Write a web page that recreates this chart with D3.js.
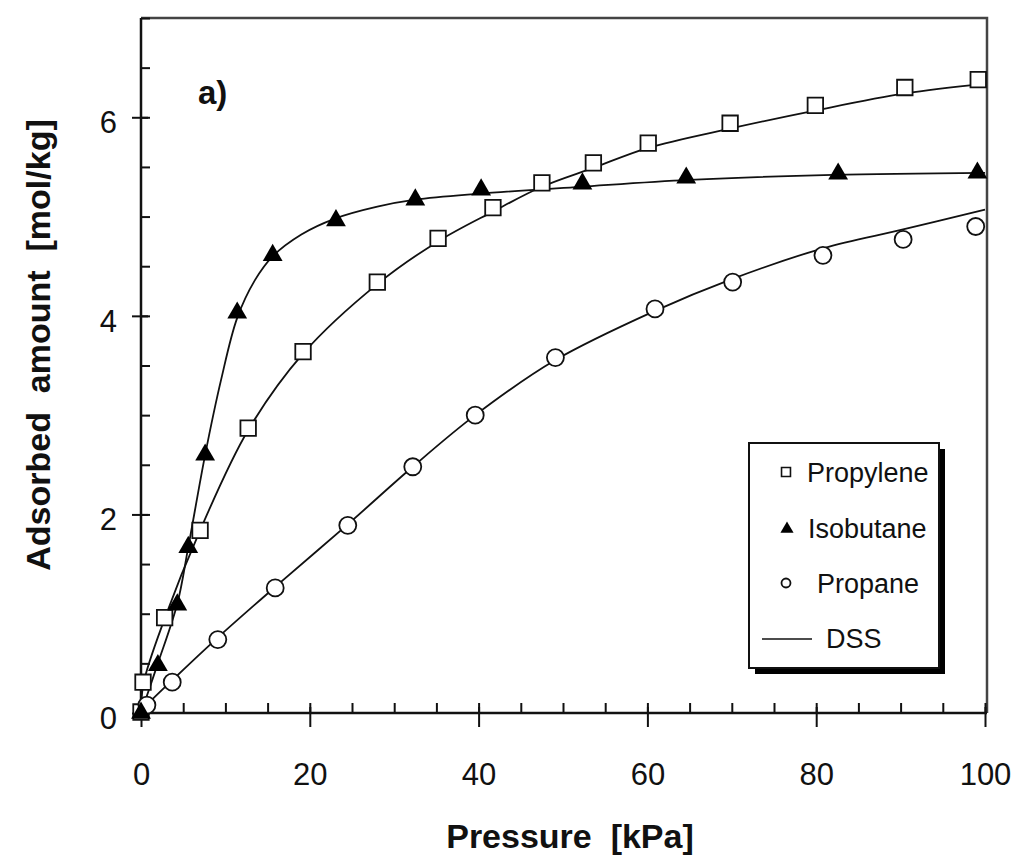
<!DOCTYPE html>
<html>
<head>
<meta charset=utf-8>
<title>Adsorption isotherms</title>
<style>
body{margin: 0; background: #fff;}
text{font-family: 'Liberation Sans', Arial, sans-serif; fill: #111;}
.tick text{font-size: 31px;}
.axis path{display: none;}
.axis line{stroke: #111; stroke-width: 2;}
.title{font-weight: bold; font-size: 34px; white-space: pre;}
</style>
</head>
<body>
<div id=chart></div>
<script src='https://cdn.jsdelivr.net/npm/d3@7'></script>
<script>
//measured points (pressure kPa, amount mol/kg)
var propyleneP = [0, 0.24, 2.8, 7.0, 12.7, 19.2, 28.0, 35.2, 41.7, 47.5, 53.6, 60.1, 69.8, 79.9, 90.5, 99.2];
var propyleneQ = [0.01, 0.31, 0.96, 1.84, 2.87, 3.64, 4.34, 4.78, 5.09, 5.34, 5.54, 5.74, 5.94, 6.12, 6.30, 6.38];

var isobutaneP = [0, 2.0, 4.3, 5.6, 7.6, 11.4, 15.6, 23.1, 32.5, 40.3, 52.3, 64.6, 82.6, 99.1];
var isobutaneQ = [0, 0.48, 1.09, 1.67, 2.6, 4.03, 4.61, 4.96, 5.17, 5.27, 5.33, 5.39, 5.43, 5.44];

var propaneP = [0.7, 3.7, 9.1, 15.9, 24.5, 32.2, 39.6, 49.1, 60.9, 70.1, 80.8, 90.3, 98.9];
var propaneQ = [0.08, 0.31, 0.74, 1.26, 1.89, 2.48, 3.0, 3.58, 4.07, 4.34, 4.61, 4.77, 4.90];

//DSS fit curves
var dssPropyleneP = [0, 0.3, 2.8, 7, 12.7, 19.2, 28, 35.2, 41.7, 47.5, 53.6, 60, 70, 80, 90.5, 100];
var dssPropyleneQ = [0, 0.3, 0.95, 1.84, 2.85, 3.62, 4.32, 4.75, 5.05, 5.3, 5.49, 5.69, 5.89, 6.07, 6.24, 6.34];

var dssIsobutaneP = [0, 2, 4.3, 5.6, 7.6, 9.5, 11.4, 13.5, 15.6, 19, 23, 28, 32.5, 40, 52, 65, 82, 100];
var dssIsobutaneQ = [0, 0.5, 1.1, 1.67, 2.6, 3.36, 3.98, 4.36, 4.6, 4.82, 4.98, 5.1, 5.17, 5.23, 5.3, 5.37, 5.42, 5.44];

var dssPropaneP = [0, 0.7, 3.7, 9.1, 15.9, 24.5, 32.2, 39.6, 49, 60.9, 70, 80.8, 90.3, 100];
var dssPropaneQ = [0, 0.08, 0.33, 0.76, 1.27, 1.9, 2.48, 3.0, 3.55, 4.05, 4.37, 4.68, 4.87, 5.07];

var legendLabels = ['Propylene', 'Isobutane', 'Propane', 'DSS'];
var xMajorTicks = [0, 20, 40, 60, 80, 100];
var yMajorTicks = [0, 2, 4, 6];

var W = 1018, H = 859;
var svg = d3.select('#chart').append('svg')
    .attr('width', W)
    .attr('height', H);

var x = d3.scaleLinear().domain([0, 100]).range([141, 985]);
var y = d3.scaleLinear().domain([0, 7]).range([713, 18]);

var zip = (a, b) => a.map((v, i) => [v, b[i]]);

//frame top and right
svg.append('path')
    .attr('d', 'M' + x(0) + ',' + y(7) + 'H' + (x(100) + 2) + 'V' + y(0))
    .attr('fill', 'none')
    .attr('stroke', '#444')
    .attr('stroke-width', 2.5);

//minor ticks (inside)
svg.append('g').attr('class', 'axis')
    .attr('transform', 'translate(0,' + y(0) + ')')
    .call(d3.axisBottom(x).tickValues(d3.range(0, 101, 5)).tickSize(-10).tickFormat(''));
svg.append('g').attr('class', 'axis')
    .attr('transform', 'translate(' + x(0) + ',0)')
    .call(d3.axisLeft(y).tickValues(d3.range(0, 7.01, 0.5)).tickSize(-9).tickFormat(''));

//major ticks crossing the axis, with labels
var xAxis = svg.append('g').attr('class', 'axis')
    .attr('transform', 'translate(0,' + y(0) + ')')
    .call(d3.axisBottom(x).tickValues(xMajorTicks).tickSize(14).tickPadding(36).tickFormat(d3.format('d')));
xAxis.selectAll('.tick line').attr('y1', -6);

var yAxis = svg.append('g').attr('class', 'axis')
    .attr('transform', 'translate(' + x(0) + ',0)')
    .call(d3.axisLeft(y).tickValues(yMajorTicks).tickSize(9).tickPadding(15).tickFormat(d3.format('d')));
yAxis.selectAll('.tick line').attr('x1', 7);
yAxis.selectAll('.tick text').attr('dy', '0.5em');

//axis lines
svg.append('line')
    .attr('x1', x(0)).attr('x2', x(100) + 2)
    .attr('y1', y(0)).attr('y2', y(0))
    .attr('stroke', '#111').attr('stroke-width', 2.5);
svg.append('line')
    .attr('x1', x(0)).attr('x2', x(0))
    .attr('y1', y(0)).attr('y2', y(7))
    .attr('stroke', '#111').attr('stroke-width', 2.5);

//axis titles
svg.append('text')
    .attr('class', 'title')
    .attr('text-anchor', 'middle')
    .attr('x', 570)
    .attr('y', 848)
    .text('Pressure  [kPa]');

svg.append('text')
    .attr('class', 'title')
    .attr('text-anchor', 'middle')
    .attr('transform', 'translate(50,345) rotate(-90)')
    .text('Adsorbed  amount  [mol/kg]');

svg.append('text')
    .attr('class', 'title')
    .attr('x', 198)
    .attr('y', 104)
    .style('font-size', '33px')
    .text('a)');

//DSS lines
var line = d3.line()
    .x(d => x(d[0]))
    .y(d => y(d[1]))
    .curve(d3.curveCatmullRom.alpha(0.5));

[zip(dssPropyleneP, dssPropyleneQ), zip(dssIsobutaneP, dssIsobutaneQ), zip(dssPropaneP, dssPropaneQ)]
  .forEach(function(d){
    svg.append('path')
        .datum(d)
        .attr('fill', 'none')
        .attr('stroke', '#111')
        .attr('stroke-width', 1.8)
        .attr('d', line);
  });

//markers
var sq = d3.symbol().type(d3.symbolSquare).size(240);
var tri = d3.symbol().type(d3.symbolTriangle).size(170);

svg.append('g').selectAll('path')
    .data(zip(propyleneP, propyleneQ))
  .enter().append('path')
    .attr('d', sq)
    .attr('transform', d => 'translate(' + x(d[0]) + ',' + y(d[1]) + ')')
    .attr('fill', '#fff')
    .attr('stroke', '#111')
    .attr('stroke-width', 1.8);

svg.append('g').selectAll('circle')
    .data(zip(propaneP, propaneQ))
  .enter().append('circle')
    .attr('cx', d => x(d[0]))
    .attr('cy', d => y(d[1]))
    .attr('r', 8.5)
    .attr('fill', '#fff')
    .attr('stroke', '#111')
    .attr('stroke-width', 1.8);

svg.append('g').selectAll('path')
    .data(zip(isobutaneP, isobutaneQ))
  .enter().append('path')
    .attr('d', tri)
    .attr('transform', d => 'translate(' + x(d[0]) + ',' + y(d[1]) + ')')
    .attr('fill', '#000');

//legend
var lg = svg.append('g').attr('transform', 'translate(749,443)');
lg.append('rect')
    .attr('x', 6).attr('y', 6)
    .attr('width', 190).attr('height', 225)
    .attr('fill', '#000');
lg.append('rect')
    .attr('width', 190).attr('height', 225)
    .attr('fill', '#fff')
    .attr('stroke', '#111')
    .attr('stroke-width', 2);

var rowY = [29, 85, 140, 195];
var textX = [58, 59, 68, 77];

lg.append('path')
    .attr('d', d3.symbol().type(d3.symbolSquare).size(80))
    .attr('transform', 'translate(37,' + rowY[0] + ')')
    .attr('fill', '#fff').attr('stroke', '#111').attr('stroke-width', 1.6);
lg.append('path')
    .attr('d', d3.symbol().type(d3.symbolTriangle).size(75))
    .attr('transform', 'translate(38,' + (rowY[1] + 1) + ')')
    .attr('fill', '#000');
lg.append('circle')
    .attr('cx', 37).attr('cy', rowY[2])
    .attr('r', 4.5)
    .attr('fill', '#fff').attr('stroke', '#111').attr('stroke-width', 1.8);
lg.append('line')
    .attr('x1', 13).attr('x2', 63)
    .attr('y1', rowY[3] + 1).attr('y2', rowY[3] + 1)
    .attr('stroke', '#111').attr('stroke-width', 1.5);

lg.selectAll('text.lab')
    .data(legendLabels)
  .enter().append('text')
    .attr('class', 'lab')
    .attr('x', (d, i) => textX[i])
    .attr('y', (d, i) => rowY[i])
    .attr('dy', '0.36em')
    .style('font-size', '27px')
    .text(d => d);
</script>
</body>
</html>
